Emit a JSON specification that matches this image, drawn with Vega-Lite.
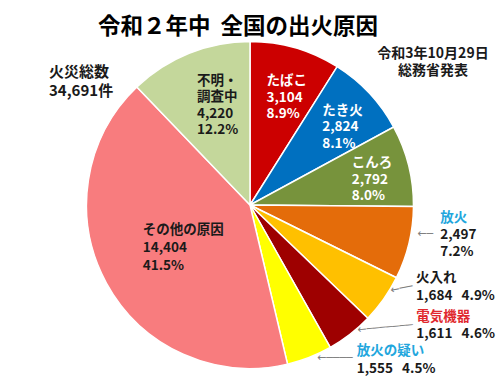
{
  "$schema": "https://vega.github.io/schema/vega-lite/v6.json",
  "autosize": "none",
  "width": 500,
  "height": 326,
  "padding": {"top": 42, "left": 0, "right": 0, "bottom": 9},
  "background": "white",
  "config": {"view": {"stroke": null}, "text": {"font": "Noto Sans CJK JP"}},
  "title": {"text": "令和２年中\u00a0\u00a0全国の出火原因", "font": "Noto Sans CJK JP", "fontSize": 22.5, "fontWeight": "bold", "color": "#000000", "anchor": "middle", "dx": -12, "dy": 4, "offset": 4},
  "data": {"values": [
    {"idx": 1, "cause": "たばこ", "count": 3104, "pct": 8.9},
    {"idx": 2, "cause": "たき火", "count": 2824, "pct": 8.1},
    {"idx": 3, "cause": "こんろ", "count": 2792, "pct": 8.0},
    {"idx": 4, "cause": "放火", "count": 2497, "pct": 7.2},
    {"idx": 5, "cause": "火入れ", "count": 1684, "pct": 4.9},
    {"idx": 6, "cause": "電気機器", "count": 1611, "pct": 4.6},
    {"idx": 7, "cause": "放火の疑い", "count": 1555, "pct": 4.5},
    {"idx": 8, "cause": "その他の原因", "count": 14404, "pct": 41.5},
    {"idx": 9, "cause": "不明・調査中", "count": 4220, "pct": 12.2}
  ]},
  "transform": [
    {"stack": "count", "groupby": [], "sort": [{"field": "idx", "order": "ascending"}], "as": ["c0", "c1"]},
    {"calculate": "(datum.c0 + datum.c1) / 2", "as": "mid"},
    {"calculate": "replace(datum.cause, '・', '・\\n') + '\\n' + format(datum.count, ',') + '\\n' + format(datum.pct, '.1f') + '%'", "as": "inLabel"},
    {"calculate": "format(datum.count, ',') + '\\n' + format(datum.pct, '.1f') + '%'", "as": "numStack"},
    {"calculate": "format(datum.count, ',') + '\u00a0\u00a0\u00a0' + format(datum.pct, '.1f') + '%'", "as": "numLine"},
    {"calculate": "datum.cause + '\\n' + datum.numLine", "as": "outLabel"}
  ],
  "layer": [
    {
      "mark": {"type": "arc", "outerRadius": 163.5, "stroke": "white", "strokeWidth": 1.5},
      "encoding": {
        "theta": {"field": "count", "type": "quantitative", "stack": true, "scale": {"nice": false, "zero": true}},
        "order": {"field": "idx", "type": "quantitative", "sort": "ascending"},
        "color": {"field": "cause", "type": "nominal", "legend": null,
          "scale": {"domain": ["たばこ", "たき火", "こんろ", "放火", "火入れ", "電気機器", "放火の疑い", "その他の原因", "不明・調査中"],
                    "range": ["#CC0000", "#0070C0", "#77933C", "#E46C0A", "#FFC000", "#9E0000", "#FFFF00", "#F87C7E", "#C4D79B"]}}
      }
    },
    {
      "transform": [{"filter": "datum.cause == '不明・調査中'"}],
      "mark": {"type": "text", "radius": 110, "dx": -12, "dy": -29, "align": "left", "baseline": "top", "fontSize": 13.5, "fontWeight": "bold", "lineBreak": "\n", "lineHeight": 16.5, "color": "#1a1a1a"},
      "encoding": {"theta": {"field": "mid", "type": "quantitative", "stack": null}, "text": {"field": "inLabel"}}
    },
    {
      "transform": [{"filter": "datum.cause == 'たばこ'"}],
      "mark": {"type": "text", "radius": 110, "dx": -14, "dy": -25, "align": "left", "baseline": "top", "fontSize": 13.5, "fontWeight": "bold", "lineBreak": "\n", "lineHeight": 16.5, "color": "white"},
      "encoding": {"theta": {"field": "mid", "type": "quantitative", "stack": null}, "text": {"field": "inLabel"}}
    },
    {
      "transform": [{"filter": "datum.cause == 'たき火'"}],
      "mark": {"type": "text", "radius": 110, "dx": -8, "dy": -26, "align": "left", "baseline": "top", "fontSize": 13.5, "fontWeight": "bold", "lineBreak": "\n", "lineHeight": 16.5, "color": "white"},
      "encoding": {"theta": {"field": "mid", "type": "quantitative", "stack": null}, "text": {"field": "inLabel"}}
    },
    {
      "transform": [{"filter": "datum.cause == 'こんろ'"}],
      "mark": {"type": "text", "radius": 110, "dx": -5, "dy": -22, "align": "left", "baseline": "top", "fontSize": 13.5, "fontWeight": "bold", "lineBreak": "\n", "lineHeight": 16.5, "color": "white"},
      "encoding": {"theta": {"field": "mid", "type": "quantitative", "stack": null}, "text": {"field": "inLabel"}}
    },
    {
      "transform": [{"filter": "datum.cause == 'その他の原因'"}],
      "mark": {"type": "text", "radius": 80, "dx": -37, "dy": -20, "align": "left", "baseline": "top", "fontSize": 13.5, "fontWeight": "bold", "lineBreak": "\n", "lineHeight": 18, "color": "#1a1a1a"},
      "encoding": {"theta": {"field": "mid", "type": "quantitative", "stack": null}, "text": {"field": "inLabel"}}
    },
    {
      "transform": [{"filter": "datum.cause == '放火'"}],
      "mark": {"type": "text", "radius": 175, "dx": 20, "dy": -35, "align": "left", "baseline": "top", "fontSize": 13.5, "fontWeight": "bold", "color": "#22A6DD"},
      "encoding": {"theta": {"field": "mid", "type": "quantitative", "stack": null}, "text": {"field": "cause"}}
    },
    {
      "transform": [{"filter": "datum.cause == '放火'"}],
      "mark": {"type": "text", "radius": 175, "dx": 20, "dy": -18, "align": "left", "baseline": "top", "fontSize": 13.5, "fontWeight": "bold", "lineBreak": "\n", "lineHeight": 17, "color": "#1a1a1a"},
      "encoding": {"theta": {"field": "mid", "type": "quantitative", "stack": null}, "text": {"field": "numStack"}}
    },
    {
      "transform": [{"filter": "datum.cause == '火入れ'"}],
      "mark": {"type": "text", "radius": 175, "dx": 23, "dy": -35, "align": "left", "baseline": "top", "fontSize": 13.5, "fontWeight": "bold", "lineBreak": "\n", "lineHeight": 18, "color": "#1a1a1a"},
      "encoding": {"theta": {"field": "mid", "type": "quantitative", "stack": null}, "text": {"field": "outLabel"}}
    },
    {
      "transform": [{"filter": "datum.cause == '電気機器'"}],
      "mark": {"type": "text", "radius": 175, "dx": 59, "dy": -33, "align": "left", "baseline": "top", "fontSize": 13.5, "fontWeight": "bold", "color": "#E0282E"},
      "encoding": {"theta": {"field": "mid", "type": "quantitative", "stack": null}, "text": {"field": "cause"}}
    },
    {
      "transform": [{"filter": "datum.cause == '電気機器'"}],
      "mark": {"type": "text", "radius": 175, "dx": 59, "dy": -16, "align": "left", "baseline": "top", "fontSize": 13.5, "fontWeight": "bold", "color": "#1a1a1a"},
      "encoding": {"theta": {"field": "mid", "type": "quantitative", "stack": null}, "text": {"field": "numLine"}}
    },
    {
      "transform": [{"filter": "datum.cause == '放火の疑い'"}],
      "mark": {"type": "text", "radius": 175, "dx": 43, "dy": -24, "align": "left", "baseline": "top", "fontSize": 13.5, "fontWeight": "bold", "color": "#22A6DD"},
      "encoding": {"theta": {"field": "mid", "type": "quantitative", "stack": null}, "text": {"field": "cause"}}
    },
    {
      "transform": [{"filter": "datum.cause == '放火の疑い'"}],
      "mark": {"type": "text", "radius": 175, "dx": 43, "dy": -6, "align": "left", "baseline": "top", "fontSize": 13.5, "fontWeight": "bold", "color": "#1a1a1a"},
      "encoding": {"theta": {"field": "mid", "type": "quantitative", "stack": null}, "text": {"field": "numLine"}}
    },
    {
      "transform": [{"filter": "datum.cause == '放火'"}],
      "mark": {"type": "text", "text": "←─", "font": "DejaVu Sans", "radius": 175, "dx": 13, "dy": -12, "align": "right", "baseline": "middle", "fontSize": 11, "color": "#7F7F7F"},
      "encoding": {"theta": {"field": "mid", "type": "quantitative", "stack": null}}
    },
    {
      "transform": [{"filter": "datum.cause == '火入れ'"}],
      "mark": {"type": "text", "text": "←──", "font": "DejaVu Sans", "radius": 175, "angle": 348.7, "dx": 23, "dy": -15, "align": "right", "baseline": "middle", "fontSize": 11, "color": "#7F7F7F"},
      "encoding": {"theta": {"field": "mid", "type": "quantitative", "stack": null}}
    },
    {
      "transform": [{"filter": "datum.cause == '電気機器'"}],
      "mark": {"type": "text", "text": "←───────", "font": "DejaVu Sans", "radius": 175, "angle": 355, "dx": 57, "dy": -13, "align": "right", "baseline": "middle", "fontSize": 11, "color": "#7F7F7F"},
      "encoding": {"theta": {"field": "mid", "type": "quantitative", "stack": null}}
    },
    {
      "transform": [{"filter": "datum.cause == '放火の疑い'"}],
      "mark": {"type": "text", "text": "←────", "font": "DejaVu Sans", "radius": 175, "dx": 39, "dy": -10, "align": "right", "baseline": "middle", "fontSize": 11, "color": "#7F7F7F"},
      "encoding": {"theta": {"field": "mid", "type": "quantitative", "stack": null}}
    },
    {
      "transform": [
        {"aggregate": [{"op": "sum", "field": "count", "as": "total"}]},
        {"calculate": "'火災総数\\n' + format(datum.total, ',') + '件'", "as": "note"}
      ],
      "mark": {"type": "text", "x": 49, "y": 23, "align": "left", "baseline": "top", "fontSize": 15, "fontWeight": "bold", "lineBreak": "\n", "lineHeight": 19, "color": "#1a1a1a"},
      "encoding": {"text": {"field": "note"}}
    },
    {
      "transform": [{"filter": "datum.idx == 1"}],
      "mark": {"type": "text", "text": ["令和3年10月29日", "総務省発表"], "x": 433, "y": 5, "align": "center", "baseline": "top", "fontSize": 14, "fontWeight": "bold", "lineHeight": 16.5, "color": "#1a1a1a"},
      "encoding": {}
    }
  ]
}
